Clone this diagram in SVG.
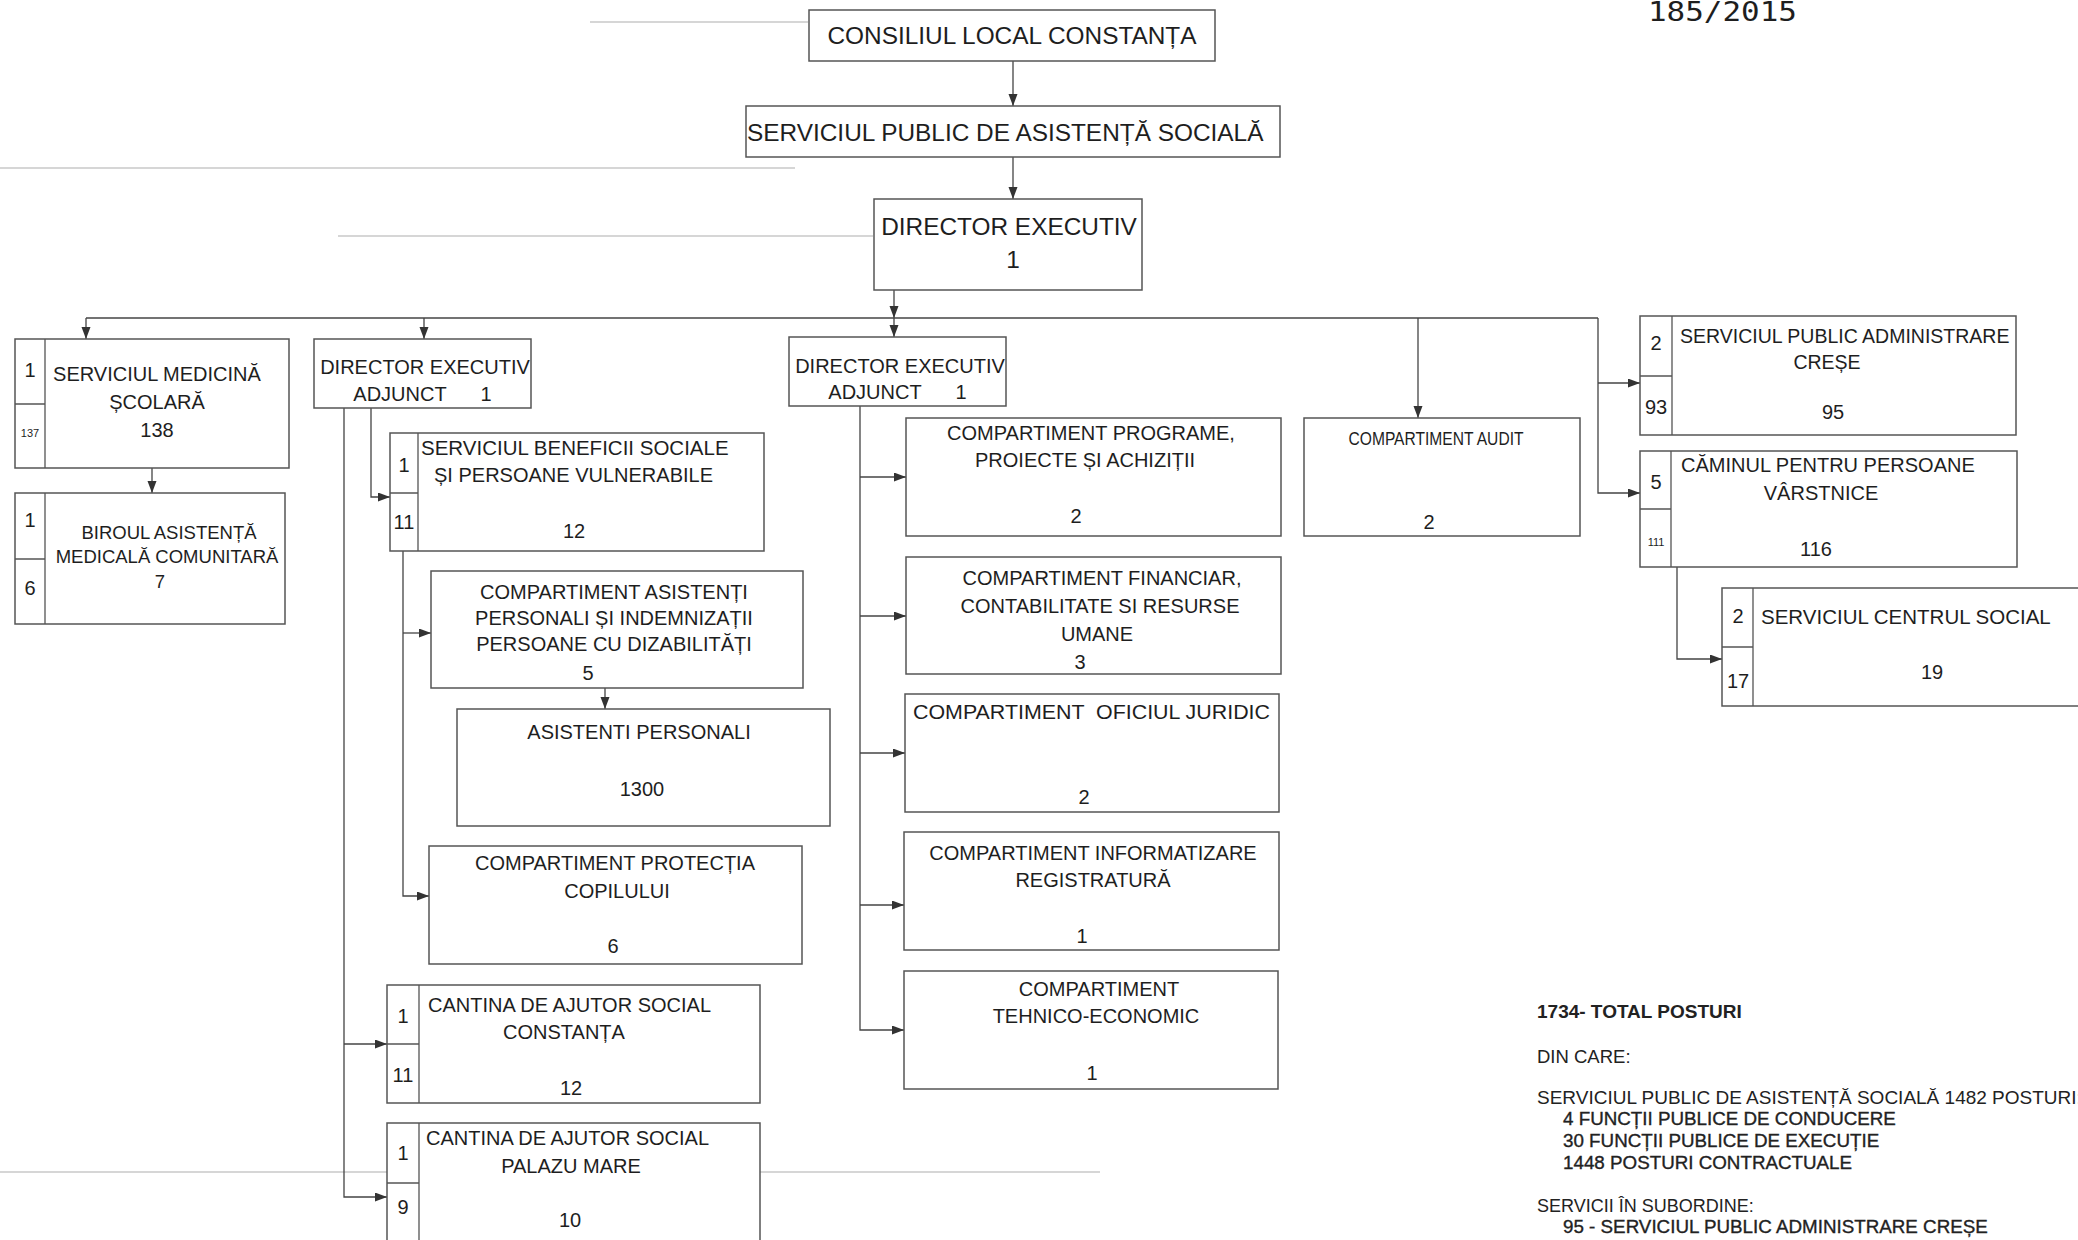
<svg xmlns="http://www.w3.org/2000/svg" width="2078" height="1240" viewBox="0 0 2078 1240">
<defs>
<style>
.box{fill:#fff;stroke:#555;stroke-width:1.5}
.div{fill:none;stroke:#555;stroke-width:1.3}
.c{fill:none;stroke:#444;stroke-width:1.3}
.t{font-family:"Liberation Sans",Arial,sans-serif;font-size:20px;fill:#1e1e1e}
.m{text-anchor:middle}
.big{font-size:24.4px}
.sm{font-size:11px}
.lg{font-family:"Liberation Sans",Arial,sans-serif;font-size:18.5px;fill:#222}
.b{font-weight:bold}
.ind{font-size:18.8px;stroke:#222;stroke-width:0.35}
.scan{fill:none;stroke:#c8c8c8;stroke-width:1.5}
</style>
<marker id="ah" markerUnits="userSpaceOnUse" markerWidth="12" markerHeight="10" refX="12" refY="4.5" orient="auto">
<path d="M0,0 L12,4.5 L0,9 z" fill="#333"/>
</marker>
</defs>
<rect width="2078" height="1240" fill="#fff"/>

<g id="scan-marks">
<path class="scan" d="M590,22 H808"/>
<path class="scan" d="M0,168 H795"/>
<path class="scan" d="M338,236 H873"/>
<path class="scan" d="M0,1172 H1100"/>
</g>

<text class="t" x="1648" y="21" style="font-family:'DejaVu Sans Mono','Liberation Mono',monospace;font-size:27px" textLength="149" lengthAdjust="spacingAndGlyphs">185/2015</text>

<g id="connectors">
<path class="c" d="M1013,61 V106" marker-end="url(#ah)"/>
<path class="c" d="M1013,157 V199" marker-end="url(#ah)"/>
<path class="c" d="M894,290 V318" marker-end="url(#ah)"/>
<path class="c" d="M86,318 H1598"/>
<path class="c" d="M86,318 V339" marker-end="url(#ah)"/>
<path class="c" d="M424,318 V339" marker-end="url(#ah)"/>
<path class="c" d="M894,318 V337" marker-end="url(#ah)"/>
<path class="c" d="M1418,318 V418" marker-end="url(#ah)"/>
<path class="c" d="M1598,318 V493 H1640" marker-end="url(#ah)"/>
<path class="c" d="M1598,383 H1640" marker-end="url(#ah)"/>
<path class="c" d="M152,468 V493" marker-end="url(#ah)"/>
<path class="c" d="M371,408 V497 H390" marker-end="url(#ah)"/>
<path class="c" d="M344,408 V1197 H387" marker-end="url(#ah)"/>
<path class="c" d="M344,1044 H387" marker-end="url(#ah)"/>
<path class="c" d="M403,551 V896 H429" marker-end="url(#ah)"/>
<path class="c" d="M403,633 H431" marker-end="url(#ah)"/>
<path class="c" d="M605,688 V709" marker-end="url(#ah)"/>
<path class="c" d="M860,406 V1030 H904" marker-end="url(#ah)"/>
<path class="c" d="M860,477 H906" marker-end="url(#ah)"/>
<path class="c" d="M860,616 H906" marker-end="url(#ah)"/>
<path class="c" d="M860,753 H905" marker-end="url(#ah)"/>
<path class="c" d="M860,905 H904" marker-end="url(#ah)"/>
<path class="c" d="M1677,567 V659 H1722" marker-end="url(#ah)"/>
</g>

<g id="consiliul">
<rect class="box" x="809" y="10" width="406" height="51"/>
<text class="t big m" x="1012" y="44">CONSILIUL LOCAL CONSTANȚA</text>
</g>

<g id="spas">
<rect class="box" x="746" y="106" width="534" height="51"/>
<text class="t big" x="747" y="141">SERVICIUL PUBLIC DE ASISTENȚĂ SOCIALĂ</text>
</g>

<g id="director">
<rect class="box" x="874" y="199" width="268" height="91"/>
<text class="t big m" x="1009" y="235">DIRECTOR EXECUTIV</text>
<text class="t big m" x="1013" y="268">1</text>
</g>

<g id="medicina">
<rect class="box" x="15" y="339" width="274" height="129"/>
<path class="div" d="M45,339 V468 M15,404 H45"/>
<text class="t m" x="30" y="377">1</text>
<text class="t sm m" x="30" y="437">137</text>
<text class="t m" x="157" y="381">SERVICIUL MEDICINĂ</text>
<text class="t m" x="157" y="409">ȘCOLARĂ</text>
<text class="t m" x="157" y="437">138</text>
</g>

<g id="biroul">
<rect class="box" x="15" y="493" width="270" height="131"/>
<path class="div" d="M45,493 V624 M15,559 H45"/>
<text class="t m" x="30" y="527">1</text>
<text class="t m" x="30" y="595">6</text>
<text class="t m" x="169" y="539" style="font-size:18.5px">BIROUL ASISTENȚĂ</text>
<text class="t m" x="167" y="563" style="font-size:18.5px">MEDICALĂ COMUNITARĂ</text>
<text class="t m" x="160" y="588" style="font-size:18.5px">7</text>
</g>

<g id="dea1">
<rect class="box" x="314" y="339" width="217" height="69"/>
<text class="t m" x="425" y="374">DIRECTOR EXECUTIV</text>
<text class="t m" x="400" y="401">ADJUNCT<tspan x="486">1</tspan></text>
</g>

<g id="dea2">
<rect class="box" x="789" y="337" width="217" height="69"/>
<text class="t m" x="900" y="373">DIRECTOR EXECUTIV</text>
<text class="t m" x="875" y="399">ADJUNCT<tspan x="961">1</tspan></text>
</g>

<g id="beneficii">
<rect class="box" x="390" y="433" width="374" height="118"/>
<path class="div" d="M418,433 V551 M390,493 H418"/>
<text class="t m" x="404" y="472">1</text>
<text class="t m" x="404" y="529">11</text>
<text class="t" x="421" y="455" style="font-size:20.5px">SERVICIUL BENEFICII SOCIALE</text>
<text class="t" x="434" y="482">ȘI PERSOANE VULNERABILE</text>
<text class="t m" x="574" y="538">12</text>
</g>

<g id="asistenti-indemnizatii">
<rect class="box" x="431" y="571" width="372" height="117"/>
<text class="t m" x="614" y="599">COMPARTIMENT ASISTENȚI</text>
<text class="t m" x="614" y="625">PERSONALI ȘI INDEMNIZAȚII</text>
<text class="t m" x="614" y="651">PERSOANE CU DIZABILITĂȚI</text>
<text class="t m" x="588" y="680">5</text>
</g>

<g id="asistenti-personali">
<rect class="box" x="457" y="709" width="373" height="117"/>
<text class="t m" x="639" y="739">ASISTENTI PERSONALI</text>
<text class="t m" x="642" y="796">1300</text>
</g>

<g id="protectia">
<rect class="box" x="429" y="846" width="373" height="118"/>
<text class="t m" x="615" y="870">COMPARTIMENT PROTECȚIA</text>
<text class="t m" x="617" y="898">COPILULUI</text>
<text class="t m" x="613" y="953">6</text>
</g>

<g id="cantina-constanta">
<rect class="box" x="387" y="985" width="373" height="118"/>
<path class="div" d="M419,985 V1103 M387,1044 H419"/>
<text class="t m" x="403" y="1023">1</text>
<text class="t m" x="403" y="1082">11</text>
<text class="t" x="428" y="1012">CANTINA DE AJUTOR SOCIAL</text>
<text class="t m" x="564" y="1039">CONSTANȚA</text>
<text class="t m" x="571" y="1095">12</text>
</g>

<g id="cantina-palazu">
<rect class="box" x="387" y="1123" width="373" height="140"/>
<path class="div" d="M419,1123 V1263 M387,1183 H419"/>
<text class="t m" x="403" y="1160">1</text>
<text class="t m" x="403" y="1214">9</text>
<text class="t" x="426" y="1145">CANTINA DE AJUTOR SOCIAL</text>
<text class="t m" x="571" y="1173">PALAZU MARE</text>
<text class="t m" x="570" y="1227">10</text>
</g>

<g id="programe">
<rect class="box" x="906" y="418" width="375" height="118"/>
<text class="t m" x="1091" y="440">COMPARTIMENT PROGRAME,</text>
<text class="t m" x="1085" y="467">PROIECTE ȘI ACHIZIȚII</text>
<text class="t m" x="1076" y="523">2</text>
</g>

<g id="audit">
<rect class="box" x="1304" y="418" width="276" height="118"/>
<text class="t m" x="1436" y="445" style="font-size:19px" textLength="175" lengthAdjust="spacingAndGlyphs">COMPARTIMENT AUDIT</text>
<text class="t m" x="1429" y="529">2</text>
</g>

<g id="financiar">
<rect class="box" x="906" y="557" width="375" height="117"/>
<text class="t m" x="1102" y="585">COMPARTIMENT FINANCIAR,</text>
<text class="t m" x="1100" y="613">CONTABILITATE SI RESURSE</text>
<text class="t m" x="1097" y="641">UMANE</text>
<text class="t m" x="1080" y="669">3</text>
</g>

<g id="juridic">
<rect class="box" x="905" y="694" width="374" height="118"/>
<text class="t" x="913" y="719" xml:space="preserve" textLength="357" lengthAdjust="spacingAndGlyphs">COMPARTIMENT  OFICIUL JURIDIC</text>
<text class="t m" x="1084" y="804">2</text>
</g>

<g id="informatizare">
<rect class="box" x="904" y="832" width="375" height="118"/>
<text class="t m" x="1093" y="860">COMPARTIMENT INFORMATIZARE</text>
<text class="t m" x="1093" y="887">REGISTRATURĂ</text>
<text class="t m" x="1082" y="943">1</text>
</g>

<g id="tehnico">
<rect class="box" x="904" y="971" width="374" height="118"/>
<text class="t m" x="1099" y="996">COMPARTIMENT</text>
<text class="t m" x="1096" y="1023">TEHNICO-ECONOMIC</text>
<text class="t m" x="1092" y="1080">1</text>
</g>

<g id="crese">
<rect class="box" x="1640" y="316" width="376" height="119"/>
<path class="div" d="M1672,316 V435 M1640,376 H1672"/>
<text class="t m" x="1656" y="350">2</text>
<text class="t m" x="1656" y="414">93</text>
<text class="t" x="1680" y="343" style="font-size:19.5px">SERVICIUL PUBLIC ADMINISTRARE</text>
<text class="t m" x="1827" y="369" style="font-size:19.5px">CREȘE</text>
<text class="t m" x="1833" y="419">95</text>
</g>

<g id="caminul">
<rect class="box" x="1640" y="451" width="377" height="116"/>
<path class="div" d="M1671,451 V567 M1640,509 H1671"/>
<text class="t m" x="1656" y="489">5</text>
<text class="t sm m" x="1656" y="546">111</text>
<text class="t" x="1681" y="472">CĂMINUL PENTRU PERSOANE</text>
<text class="t m" x="1821" y="500">VÂRSTNICE</text>
<text class="t m" x="1816" y="556">116</text>
</g>

<g id="centrul-social">
<rect class="box" x="1722" y="588" width="360" height="118"/>
<path class="div" d="M1753,588 V706 M1722,647 H1753"/>
<text class="t m" x="1738" y="623">2</text>
<text class="t m" x="1738" y="688">17</text>
<text class="t" x="1761" y="624" style="font-size:20.5px">SERVICIUL CENTRUL SOCIAL</text>
<text class="t m" x="1932" y="679">19</text>
</g>

<g id="legend">
<text class="lg b" x="1537" y="1018" style="font-size:19px">1734- TOTAL POSTURI</text>
<text class="lg" x="1537" y="1063">DIN CARE:</text>
<text class="lg" x="1537" y="1104" style="font-size:19px">SERVICIUL PUBLIC DE ASISTENȚĂ SOCIALĂ 1482 POSTURI:</text>
<text class="lg ind" x="1563" y="1125">4 FUNCȚII PUBLICE DE CONDUCERE</text>
<text class="lg ind" x="1563" y="1147">30 FUNCȚII PUBLICE DE EXECUȚIE</text>
<text class="lg ind" x="1563" y="1169">1448 POSTURI CONTRACTUALE</text>
<text class="lg" x="1537" y="1212" style="font-size:18px">SERVICII ÎN SUBORDINE:</text>
<text class="lg ind" x="1563" y="1233">95 - SERVICIUL PUBLIC ADMINISTRARE CREȘE</text>
</g>
</svg>
